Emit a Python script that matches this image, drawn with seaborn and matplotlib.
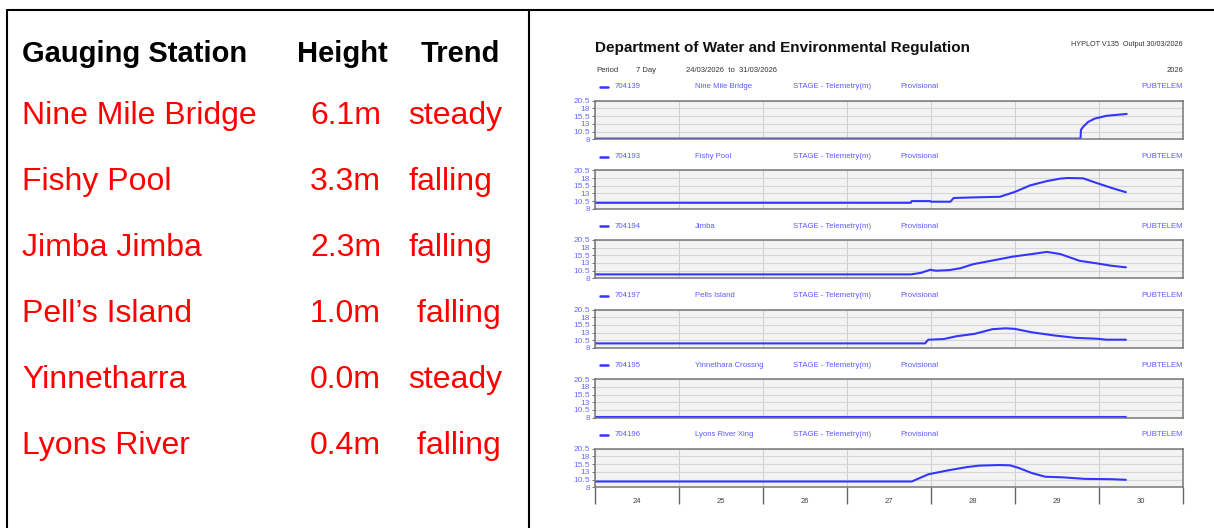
import matplotlib
matplotlib.use("Agg")
import matplotlib.pyplot as plt
import seaborn as sns
from matplotlib.lines import Line2D

# ---- left table ----
stations = ["Nine Mile Bridge", "Fishy Pool", "Jimba Jimba", "Pell\u2019s Island", "Yinnetharra", "Lyons River"]
heights = ["6.1m", "3.3m", "2.3m", "1.0m", "0.0m", "0.4m"]
trends = ["steady", "falling", "falling", " falling", "steady", " falling"]
headers = ["Gauging Station", "Height", "Trend"]

# ---- hydrograph panels ----
site_ids = ["704139", "704193", "704194", "704197", "704195", "704196"]
site_names = ["Nine Mile Bridge", "Fishy Pool", "Jimba", "Pells Island", "Yinnethara Crossng", "Lyons River Xing"]

nmb_t = [24.0, 29.78, 29.785, 29.81, 29.87, 29.95, 30.09, 30.21, 30.33]
nmb_v = [8.2, 8.2, 11.0, 12.0, 13.6, 14.7, 15.6, 15.9, 16.2]

fishy_t = [24.0, 27.76, 27.77, 27.99, 28.0, 28.23, 28.27, 28.50, 28.82, 29.0, 29.18, 29.38, 29.54, 29.62, 29.81, 29.97, 30.17, 30.32]
fishy_v = [9.95, 9.95, 10.5, 10.5, 10.3, 10.3, 11.5, 11.7, 11.9, 13.5, 15.6, 17.0, 17.8, 18.0, 17.9, 16.4, 14.6, 13.4]

jimba_t = [24.0, 27.76, 27.88, 27.99, 28.06, 28.22, 28.35, 28.50, 28.75, 28.98, 29.20, 29.38, 29.54, 29.77, 29.97, 30.15, 30.32]
jimba_v = [9.3, 9.3, 9.8, 10.8, 10.5, 10.7, 11.3, 12.6, 13.9, 15.1, 15.9, 16.6, 15.9, 13.7, 12.9, 12.1, 11.6]

pells_t = [24.0, 27.93, 27.95, 27.97, 28.15, 28.30, 28.52, 28.73, 28.89, 29.00, 29.20, 29.46, 29.72, 29.98, 30.09, 30.32]
pells_v = [9.5, 9.5, 10.2, 10.7, 10.9, 11.8, 12.6, 14.1, 14.4, 14.2, 13.1, 12.1, 11.3, 11.0, 10.7, 10.7]

yinn_t = [24.0, 30.32]
yinn_v = [8.2, 8.2]

lyons_t = [24.0, 27.77, 27.97, 28.21, 28.42, 28.57, 28.81, 28.94, 29.04, 29.20, 29.36, 29.57, 29.83, 30.15, 30.32]
lyons_v = [9.85, 9.85, 12.2, 13.5, 14.5, 15.0, 15.2, 15.1, 14.3, 12.6, 11.4, 11.2, 10.7, 10.6, 10.4]

series = [(nmb_t, nmb_v), (fishy_t, fishy_v), (jimba_t, jimba_v),
          (pells_t, pells_v), (yinn_t, yinn_v), (lyons_t, lyons_v)]

y_ticks = [8, 10.5, 13, 15.5, 18, 20.5]
y_labels = ["8", "10.5", "13", "15.5", "18", "20.5"]
day_labels = ["24", "25", "26", "27", "28", "29", "30"]

W, H = 1214, 528
sns.set_theme(style="white")
plt.rcParams["font.family"] = ["Liberation Sans", "DejaVu Sans"]

fig = plt.figure(figsize=(W / 100, H / 100), dpi=100)


def fx(x):
    return x / W


def fy(y):
    return 1 - y / H


# table frame
for xs, ys in [([7, W], [10, 10]), ([7, 7], [10, H]), ([529, 529], [10, H])]:
    fig.add_artist(Line2D([fx(v) for v in xs], [fy(v) for v in ys], color="black", lw=1.5))

fig.text(fx(22), fy(62), headers[0], fontsize=21, fontweight="bold", color="black")
fig.text(fx(297), fy(62), headers[1], fontsize=21, fontweight="bold", color="black")
fig.text(fx(421), fy(62), headers[2], fontsize=21, fontweight="bold", color="black")
for i, (s, h, t) in enumerate(zip(stations, heights, trends)):
    base = 124 + 66 * i
    fig.text(fx(22), fy(base), s, fontsize=23, color="#ff0000")
    fig.text(fx(310), fy(base), h, fontsize=23, color="#ff0000")
    fig.text(fx(408), fy(base), t, fontsize=23, color="#ff0000")

# hydrograph header
fig.text(fx(595), fy(48), "Department of Water and Environmental Regulation",
         fontsize=11, fontweight="bold", color="#111111", va="center")
fig.text(fx(1183), fy(44), "HYPLOT V135  Output 30/03/2026", fontsize=5.2,
         color="#333333", ha="right", va="center")
fig.text(fx(596), fy(70.5), "Period", fontsize=5.5, color="#333333", va="center")
fig.text(fx(636), fy(70.5), "7 Day", fontsize=5.5, color="#333333", va="center")
fig.text(fx(686), fy(70.5), "24/03/2026  to  31/03/2026", fontsize=5.5, color="#333333", va="center")
fig.text(fx(1183), fy(70.5), "2026", fontsize=5.5, color="#333333", ha="right", va="center")

blue_line = "#3535ff"
blue_text = "#5a5aff"
left, right = 595, 1183
box_h = 38.5
for i, (sid, name, (t, v)) in enumerate(zip(site_ids, site_names, series)):
    top = 100.7 + 69.6 * i
    hy = top - 13.7
    fig.add_artist(Line2D([fx(600), fx(608)], [fy(hy), fy(hy)], color=blue_line, lw=1.8))
    fig.text(fx(615), fy(hy), sid, fontsize=5.6, color=blue_text, va="center")
    fig.text(fx(695), fy(hy), name, fontsize=5.6, color=blue_text, va="center")
    fig.text(fx(793), fy(hy), "STAGE - Telemetry(m)", fontsize=5.6, color=blue_text, va="center")
    fig.text(fx(900), fy(hy), "Provisional", fontsize=5.6, color=blue_text, va="center")
    fig.text(fx(1183), fy(hy), "PUBTELEM", fontsize=5.6, color=blue_text, va="center", ha="right")

    ax = fig.add_axes([fx(left), fy(top + box_h), (right - left) / W, box_h / H])
    ax.set_facecolor("#f3f3f3")
    sns.lineplot(x=t, y=v, ax=ax, color=blue_line, linewidth=1.5)
    ax.set_xlim(24, 31)
    ax.set_ylim(8, 20.5)
    ax.set_yticks(y_ticks)
    ax.set_yticklabels(y_labels)
    ax.set_xticks(range(24, 32))
    ax.grid(True, axis="y", color="#d6d6d6", lw=0.8)
    ax.grid(True, axis="x", color="#cfcfcf", lw=0.8)
    ax.tick_params(axis="y", length=2.5, width=0.6, color="#555555", pad=1,
                   labelsize=6, labelcolor="#6a6aff", left=True)
    ax.set_xlabel("")
    ax.set_ylabel("")
    for sp in ax.spines.values():
        sp.set_color("#777777")
        sp.set_linewidth(1.1)
    if i == len(site_ids) - 1:
        ax.tick_params(axis="x", which="major", length=12.3, width=1.0, color="#666666",
                       direction="out", labelbottom=False, bottom=True)
        ax.set_xticks([d + 0.5 for d in range(24, 31)], minor=True)
        ax.set_xticklabels(day_labels, minor=True)
        ax.tick_params(axis="x", which="minor", length=0, pad=7.5, labelsize=5.5,
                       labelcolor="#444444")
    else:
        ax.tick_params(axis="x", length=0, labelbottom=False)

fig.savefig("out.png", dpi=100)
